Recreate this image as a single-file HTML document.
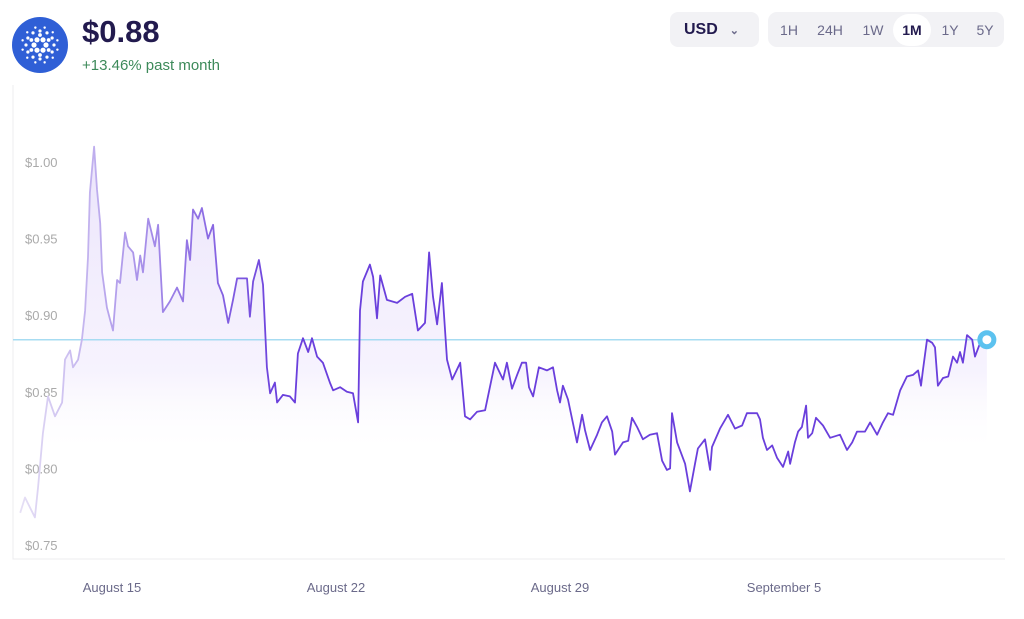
<!DOCTYPE html>
<html><head><meta charset="utf-8"><style>
body{margin:0;width:1024px;height:619px;background:#fff;font-family:"Liberation Sans",sans-serif;overflow:hidden;position:relative}
.abs{position:absolute}
.btn{position:absolute;top:14px;height:32px;line-height:32px;font-size:14px;color:#6b6a8a;text-align:center}
</style></head><body>
<div class="abs" style="left:12px;top:17px;width:56px;height:56px;border-radius:50%;background:#2f5fd6">
<svg width="56" height="56" viewBox="0 0 56 56"><g fill="#fff">
<g id="ring"></g>
</g></svg></div>
<div class="abs" style="left:82px;top:14px;font-size:31px;font-weight:bold;color:#221a4e">$0.88</div>
<div class="abs" style="left:82px;top:57px;font-size:15px;color:#3d8a5a">+13.46% past month</div>
<div class="abs" style="left:670px;top:12px;width:89px;height:35px;border-radius:8px;background:#f2f2f5;font-size:16px;font-weight:bold;color:#221a4e;line-height:35px"><span style="margin-left:14px">USD</span><span style="margin-left:12px;color:#6b6a8a;font-size:11px">&#8964;</span></div>
<div class="abs" style="left:768px;top:12px;width:236px;height:35px;border-radius:9px;background:#f2f2f5"></div>
<div class="btn" style="left:774px;width:30px">1H</div>
<div class="btn" style="left:812px;width:36px">24H</div>
<div class="btn" style="left:856px;width:34px">1W</div>
<div class="btn" style="left:893px;top:14px;width:38px;border-radius:16px;background:#fff;color:#221a4e;font-weight:bold">1M</div>
<div class="btn" style="left:936px;width:28px">1Y</div>
<div class="btn" style="left:970px;width:30px">5Y</div>
<svg id="chart" class="abs" style="left:0;top:0" width="1024" height="619"></svg>
<script>
const days=[12.13,12.28,12.59,12.69,12.84,13.00,13.22,13.44,13.53,13.69,13.78,13.94,14.06,14.16,14.25,14.31,14.44,14.53,14.63,14.69,14.84,14.94,15.03,15.16,15.25,15.41,15.50,15.66,15.78,15.88,15.97,16.13,16.34,16.44,16.59,16.81,17.03,17.22,17.34,17.44,17.53,17.69,17.81,18.00,18.16,18.31,18.47,18.63,18.78,18.91,19.06,19.22,19.31,19.41,19.59,19.72,19.84,19.94,20.09,20.16,20.34,20.56,20.72,20.81,20.97,21.13,21.25,21.41,21.59,21.81,21.91,22.13,22.34,22.53,22.69,22.75,22.84,23.06,23.16,23.28,23.38,23.59,23.91,24.16,24.38,24.56,24.78,24.91,25.03,25.16,25.31,25.47,25.63,25.88,26.03,26.19,26.41,26.66,26.97,27.22,27.34,27.50,27.66,27.81,27.94,28.03,28.16,28.34,28.59,28.78,28.91,29.00,29.09,29.25,29.53,29.69,29.78,29.94,30.16,30.31,30.47,30.63,30.72,30.97,31.13,31.25,31.41,31.59,31.81,32.03,32.19,32.34,32.44,32.50,32.66,32.91,33.06,33.22,33.31,33.53,33.69,33.75,34.00,34.25,34.47,34.69,34.84,35.16,35.25,35.34,35.47,35.63,35.78,35.97,36.13,36.19,36.34,36.44,36.56,36.69,36.75,36.88,37.00,37.22,37.44,37.75,37.97,38.13,38.28,38.53,38.69,38.91,39.09,39.25,39.41,39.63,39.84,40.03,40.19,40.28,40.34,40.47,40.63,40.72,40.81,40.97,41.13,41.28,41.41,41.50,41.59,41.72,41.88,41.97,42.13,42.34];
const prices=[0.771,0.781,0.768,0.788,0.823,0.847,0.834,0.843,0.871,0.877,0.866,0.871,0.884,0.903,0.938,0.980,1.010,0.982,0.960,0.928,0.905,0.897,0.890,0.923,0.921,0.954,0.945,0.941,0.923,0.939,0.928,0.963,0.945,0.959,0.902,0.909,0.918,0.909,0.949,0.936,0.969,0.963,0.970,0.950,0.959,0.921,0.913,0.895,0.910,0.924,0.924,0.924,0.899,0.922,0.936,0.920,0.866,0.849,0.856,0.843,0.848,0.847,0.843,0.875,0.885,0.876,0.885,0.873,0.869,0.856,0.851,0.853,0.850,0.849,0.830,0.903,0.922,0.933,0.925,0.898,0.926,0.910,0.908,0.912,0.914,0.890,0.895,0.941,0.912,0.894,0.921,0.871,0.858,0.869,0.834,0.832,0.837,0.838,0.869,0.858,0.869,0.852,0.861,0.869,0.869,0.853,0.847,0.866,0.864,0.866,0.851,0.843,0.854,0.845,0.817,0.835,0.825,0.812,0.822,0.830,0.834,0.824,0.809,0.817,0.818,0.833,0.827,0.819,0.822,0.823,0.805,0.799,0.800,0.836,0.817,0.803,0.785,0.803,0.813,0.819,0.799,0.814,0.826,0.835,0.826,0.828,0.836,0.836,0.832,0.820,0.812,0.815,0.807,0.801,0.811,0.803,0.817,0.824,0.827,0.841,0.820,0.823,0.833,0.828,0.820,0.822,0.812,0.817,0.824,0.824,0.830,0.822,0.830,0.836,0.835,0.851,0.860,0.861,0.864,0.854,0.864,0.884,0.882,0.879,0.854,0.859,0.860,0.873,0.869,0.876,0.869,0.887,0.884,0.873,0.882,0.884];
const yTicks=[1.00,0.95,0.90,0.85,0.80,0.75];
const xTickDays=[15,22,29,36];
const xTickLabels=["August 15","August 22","August 29","September 5"];
const NS="http://www.w3.org/2000/svg";
const svg=document.getElementById('chart');
const X=d=>112+(d-15)*32;
const Y=p=>545-(p-0.75)*(76.6/0.05);
function mk(t,a){const e=document.createElementNS(NS,t);for(const k in a)e.setAttribute(k,a[k]);svg.appendChild(e);return e;}
svg.innerHTML='<defs><linearGradient id="fillg" x1="0" y1="0" x2="0" y2="1"><stop offset="0" stop-color="#e9e1fb" stop-opacity="0.9"/><stop offset="0.55" stop-color="#f3eefd" stop-opacity="0.7"/><stop offset="0.75" stop-color="#fff" stop-opacity="0"/></linearGradient><linearGradient id="strokeg" gradientUnits="userSpaceOnUse" x1="20" y1="0" x2="280" y2="0"><stop offset="0" stop-color="#e6e0f5"/><stop offset="0.35" stop-color="#b6a3ec"/><stop offset="1" stop-color="#6a3fdc"/></linearGradient></defs>';
let fr=mk('path',{d:'M13 85 V559 H1005',fill:'none',stroke:'#ececef','stroke-width':1});

let d='';days.forEach((dd,i)=>{d+=(i?'L':'M')+X(dd).toFixed(1)+' '+Y(prices[i]).toFixed(1)});
const last=prices.length-1;
const area=mk('path',{d:d+'L'+X(days[last])+' 559 L'+X(days[0])+' 559Z',fill:'url(#fillg)'});

yTicks.forEach(v=>{const t=mk('text',{x:25,y:Y(v)+5,'font-size':13,fill:'#aaa','font-family':'Liberation Sans'});t.textContent='$'+v.toFixed(2);
});
xTickDays.forEach((d,i)=>{const t=mk('text',{x:X(d),y:592,'font-size':13,fill:'#6b6a8a','text-anchor':'middle','font-family':'Liberation Sans'});t.textContent=xTickLabels[i];
});
const cl=mk('line',{x1:13,x2:X(days[last]),y1:Y(prices[last]),y2:Y(prices[last]),stroke:'#a7dcf2','stroke-width':1.5});

const ln=mk('path',{d:d,fill:'none',stroke:'url(#strokeg)','stroke-width':1.8,'stroke-linejoin':'round'});

const dot=mk('circle',{cx:X(days[last]),cy:Y(prices[last]),r:7,fill:'#fff',stroke:'#5cc2ef','stroke-width':5});

const g=document.getElementById('ring');
[[6,2.6,0,6],[10,1.9,30,6],[14,1.6,0,12],[18,1.2,15,12]].forEach(([r,s,o,cnt])=>{
for(let i=0;i<cnt;i++){const a=(i*360/cnt+o)*Math.PI/180;const c=document.createElementNS(NS,'circle');c.setAttribute('cx',28+r*Math.cos(a));c.setAttribute('cy',28+r*Math.sin(a));c.setAttribute('r',s);g.appendChild(c);}});
</script>
</body></html>
